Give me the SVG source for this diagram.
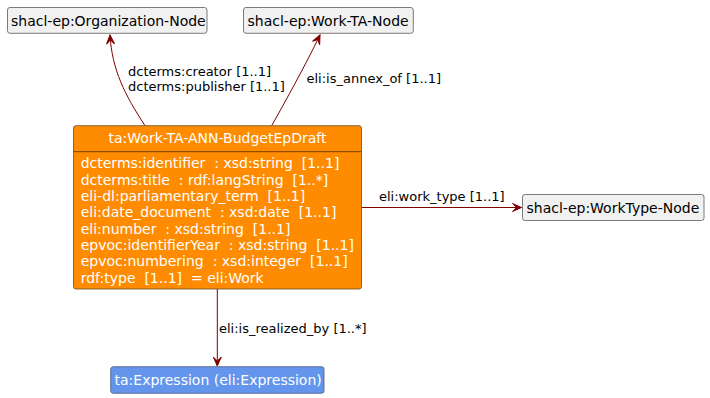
<svg xmlns="http://www.w3.org/2000/svg" width="710" height="398" viewBox="0 0 710 398">
<defs>
<style>
text{font-family:"DejaVu Sans","Liberation Sans",sans-serif;white-space:pre;}
.node{fill:#F1F1F1;stroke:#5a5a5a;stroke-width:0.8;}
.nt{font-size:14px;fill:#000;}
.wt{font-size:14px;fill:#fff;}
.el{font-size:13px;fill:#000;}
.edge{fill:none;stroke:#800000;stroke-width:1;}
</style>
<marker id="arr" markerUnits="userSpaceOnUse" markerWidth="14" markerHeight="12" viewBox="-10 -6 12 12" refX="0" refY="0" orient="auto">
<path d="M0,0 L-9,-4 L-5,0 L-9,4 Z" fill="#800000" stroke="#800000" stroke-width="1"/>
</marker>
</defs>
<rect width="710" height="398" fill="#fff"/>
<g id="connectors">
<path class="edge" d="M145,125.7 C125,95 112,70 110,35" marker-end="url(#arr)"/>
<text class="el" x="128" y="76">dcterms:creator [1..1]</text>
<text class="el" x="128" y="91">dcterms:publisher [1..1]</text>
<path class="edge" d="M271.7,125.7 C285,102 305,66 320,35" marker-end="url(#arr)"/>
<text class="el" x="306.5" y="82.5">eli:is_annex_of [1..1]</text>
<path class="edge" d="M361.7,207.5 L521.5,207.5" marker-end="url(#arr)"/>
<text class="el" x="379" y="201">eli:work_type [1..1]</text>
<path class="edge" d="M217.3,289 L217.3,366" marker-end="url(#arr)"/>
<text class="el" x="219" y="333">eli:is_realized_by [1..*]</text>
</g>
<g id="org-node">
<rect class="node" x="7.5" y="7.5" width="199.5" height="25.8" rx="2.5"/>
<text class="nt" x="11" y="25.5">shacl-ep:Organization-Node</text>
</g>
<g id="work-ta-node">
<rect class="node" x="243.5" y="7.5" width="169.8" height="25.8" rx="2.5"/>
<text class="nt" x="247.5" y="25.5">shacl-ep:Work-TA-Node</text>
</g>
<g id="worktype-node">
<rect class="node" x="522.5" y="194.5" width="181.5" height="26" rx="2.5"/>
<text class="nt" x="526.5" y="212.5">shacl-ep:WorkType-Node</text>
</g>
<g id="main-node">
<rect x="73.5" y="125.7" width="288" height="163.3" rx="2.5" fill="#FF8C00" stroke="#6b4a2a" stroke-width="0.8"/>
<line x1="73.5" y1="151.7" x2="361.5" y2="151.7" stroke="#7a3f00" stroke-width="1"/>
<text class="wt" x="217.5" y="142.7" text-anchor="middle">ta:Work-TA-ANN-BudgetEpDraft</text>
<text class="wt" x="80.7" y="168.3" xml:space="preserve">dcterms:identifier  : xsd:string  [1..1]</text>
<text class="wt" x="80.7" y="184.6" xml:space="preserve">dcterms:title  : rdf:langString  [1..*]</text>
<text class="wt" x="80.7" y="201" xml:space="preserve">eli-dl:parliamentary_term  [1..1]</text>
<text class="wt" x="80.7" y="217.3" xml:space="preserve">eli:date_document  : xsd:date  [1..1]</text>
<text class="wt" x="80.7" y="233.7" xml:space="preserve">eli:number  : xsd:string  [1..1]</text>
<text class="wt" x="80.7" y="250" xml:space="preserve">epvoc:identifierYear  : xsd:string  [1..1]</text>
<text class="wt" x="80.7" y="266.3" xml:space="preserve">epvoc:numbering  : xsd:integer  [1..1]</text>
<text class="wt" x="80.7" y="282.7" xml:space="preserve">rdf:type  [1..1]  = eli:Work</text>
</g>
<g id="expression-node">
<rect x="110.7" y="366.7" width="213.3" height="26.6" rx="2.5" fill="#6495ED" stroke="#4a5a7a" stroke-width="0.8"/>
<text class="wt" x="114.5" y="385">ta:Expression (eli:Expression)</text>
</g>
</svg>
